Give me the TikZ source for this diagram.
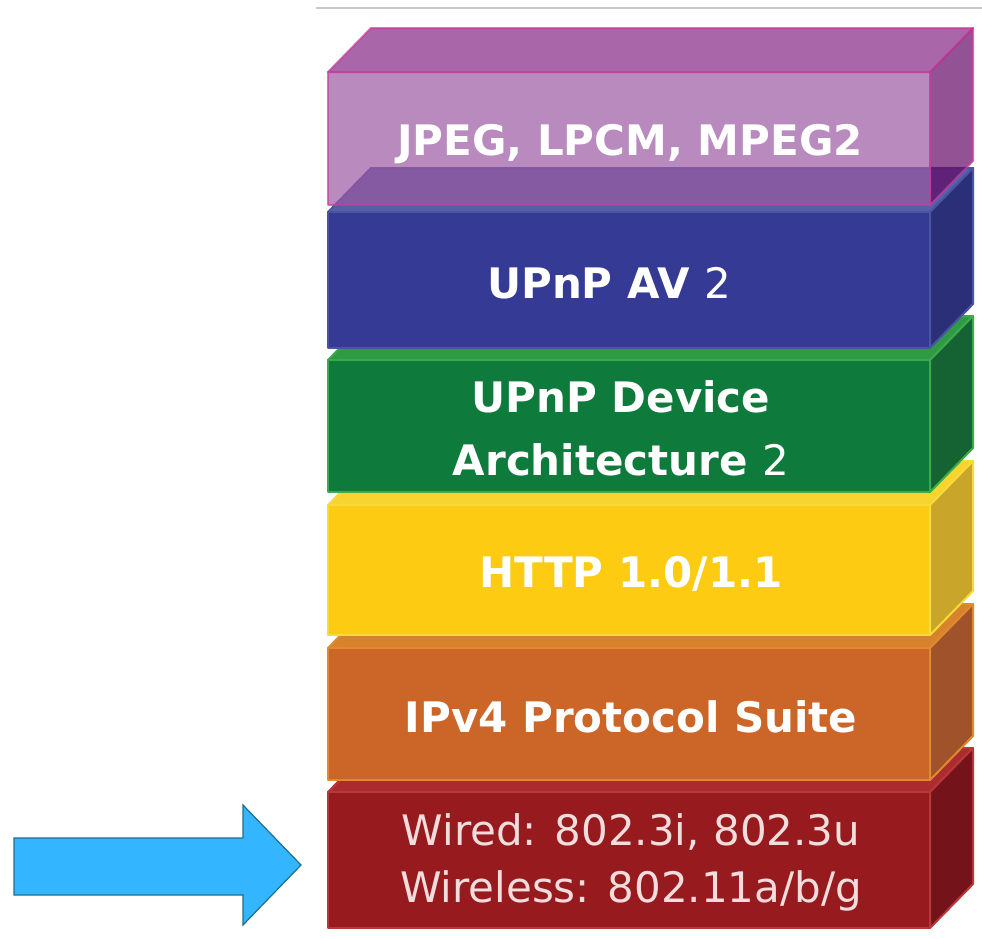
\documentclass[tikz,border=0pt]{standalone}
\usepackage{fontspec}
\setmainfont{DejaVu Sans}
\usetikzlibrary{positioning}

% face colours of the protocol stack (front, top, side, edge)
\definecolor{mediafront}{HTML}{9B58A1}
\definecolor{mediatop}{HTML}{842686}
\definecolor{mediaside}{HTML}{650966}
\definecolor{mediaedge}{HTML}{C83C9B}
\definecolor{avfront}{HTML}{353A94}
\definecolor{avtop}{HTML}{5560A8}
\definecolor{avside}{HTML}{2B2F78}
\definecolor{avedge}{HTML}{4A55A2}
\definecolor{devfront}{HTML}{0E7A3C}
\definecolor{devtop}{HTML}{2E9A44}
\definecolor{devside}{HTML}{156233}
\definecolor{devedge}{HTML}{3DAA4A}
\definecolor{httpfront}{HTML}{FCCB12}
\definecolor{httptop}{HTML}{F9D42E}
\definecolor{httpside}{HTML}{C9A52A}
\definecolor{httpedge}{HTML}{F5DC3A}
\definecolor{ipfront}{HTML}{CB6628}
\definecolor{iptop}{HTML}{D9822E}
\definecolor{ipside}{HTML}{A0522A}
\definecolor{ipedge}{HTML}{E08A30}
\definecolor{phyfront}{HTML}{961A1E}
\definecolor{phytop}{HTML}{AC2B2F}
\definecolor{physide}{HTML}{74141A}
\definecolor{phyedge}{HTML}{B8383A}
\definecolor{phytext}{HTML}{F2DCDC}
\definecolor{arrowblue}{HTML}{33B6FF}
\definecolor{arrowedge}{HTML}{1F6E8C}
\definecolor{rulegray}{HTML}{C8C8C8}

% one slab of the stack: [extra style]{top y}{bottom y}{colour prefix}
\newcommand{\stacklayer}[4][]{%
  \filldraw[#1, fill=#4top, draw=#4edge, line width=2pt, line join=round]
    (328,#2) -- ++(43,-44) -- ++(602,0) -- (930,#2) -- cycle;
  \filldraw[#1, fill=#4side, draw=#4edge, line width=2pt, line join=round]
    (930,#2) -- ++(43,-44) -- (973,#3-44) -- (930,#3) -- cycle;
  \filldraw[#1, fill=#4front, draw=#4edge, line width=2pt, line join=round]
    (328,#2) rectangle (930,#3);
}

\begin{document}
\begin{tikzpicture}[x=1pt, y=-1pt,
  label/.style={text=white, font=\fontsize{42}{63}\selectfont\bfseries, align=center, inner sep=0pt},
  phylabel/.style={text=phytext, font=\fontsize{42}{57}\selectfont, align=center, inner sep=0pt},
  blockarrow/.style={fill=arrowblue, draw=arrowedge, line width=1.2pt, line join=miter}
]
  \useasboundingbox (0,0) rectangle (982,938);

  \draw[rulegray, line width=1.5pt] (316,8) -- (982,8);

  % slabs, bottom up
  \stacklayer{792}{928}{phy}
  \stacklayer{648}{780}{ip}
  \stacklayer{505}{635}{http}
  \stacklayer{360}{492}{dev}
  \stacklayer{212}{348}{av}
  \stacklayer[opacity=0.7]{72}{205}{media}

  \node[label, anchor=base] (media) at (630,155) {JPEG, LPCM, MPEG2};
  \node[label, anchor=base] (av) at (609,298) {UPnP AV {\mdseries 2}};
  \node[label] (devarch) at (621,428) {UPnP Device\\Architecture {\mdseries 2}};
  \node[label, anchor=base] (http) at (631,587) {HTTP 1.0/1.1};
  \node[label, anchor=base] (ipv4) at (631,732) {IPv4 Protocol Suite};
  \node[phylabel] (phy) at (631,862) {Wired: 802.3i, 802.3u\\Wireless: 802.11a/b/g};

  % pointer at the link layer
  \draw[blockarrow] (14,838) -- (243,838) -- (243,805) -- (301,865)
    -- (243,925) -- (243,895) -- (14,895) -- cycle;
\end{tikzpicture}
\end{document}
